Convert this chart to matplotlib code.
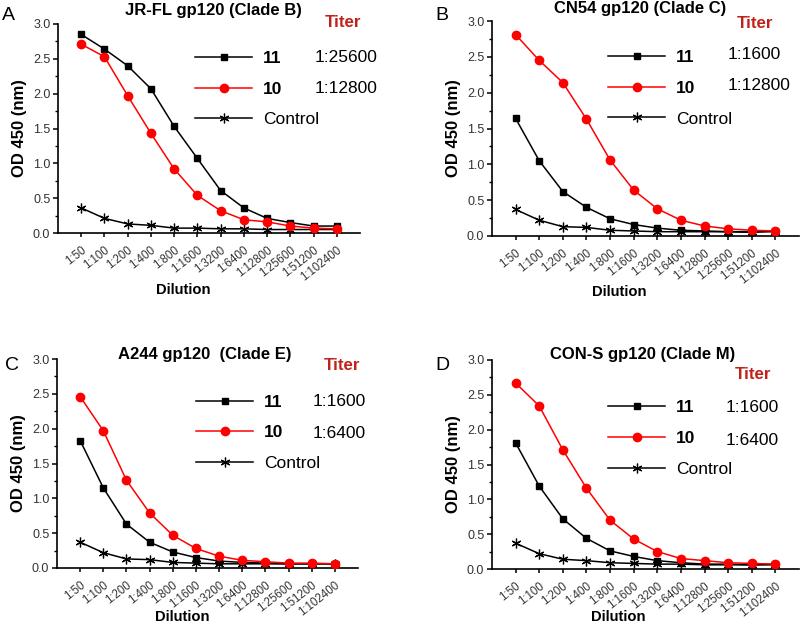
import matplotlib
matplotlib.use("Agg")
import matplotlib.pyplot as plt
from matplotlib.ticker import MultipleLocator
import numpy as np

plt.rcParams['font.family'] = ['Liberation Sans', 'DejaVu Sans']

dilutions = ["1:50", "1:100", "1:200", "1:400", "1:800", "1:1600", "1:3200",
             "1:6400", "1:12800", "1:25600", "1:51200", "1:102400"]

# Panel A: JR-FL gp120 (Clade B)
a_11 = [2.85, 2.64, 2.40, 2.07, 1.53, 1.07, 0.61, 0.36, 0.21, 0.15, 0.10, 0.10]
a_10 = [2.71, 2.53, 1.97, 1.43, 0.92, 0.54, 0.32, 0.19, 0.16, 0.10, 0.07, 0.06]
a_ctrl = [0.36, 0.21, 0.13, 0.11, 0.07, 0.07, 0.06, 0.06, 0.05, 0.05, 0.05, 0.05]

# Panel B: CN54 gp120 (Clade C)
b_11 = [1.64, 1.05, 0.62, 0.40, 0.24, 0.16, 0.11, 0.08, 0.07, 0.06, 0.05, 0.07]
b_10 = [2.81, 2.45, 2.14, 1.63, 1.06, 0.64, 0.38, 0.22, 0.14, 0.10, 0.08, 0.07]
b_ctrl = [0.37, 0.22, 0.13, 0.12, 0.08, 0.07, 0.06, 0.06, 0.06, 0.06, 0.06, 0.06]

# Panel C: A244 gp120 (Clade E)
c_11 = [1.83, 1.15, 0.63, 0.37, 0.23, 0.15, 0.10, 0.08, 0.07, 0.06, 0.06, 0.06]
c_10 = [2.46, 1.97, 1.26, 0.79, 0.47, 0.28, 0.17, 0.11, 0.09, 0.07, 0.07, 0.06]
c_ctrl = [0.37, 0.22, 0.13, 0.12, 0.08, 0.07, 0.06, 0.06, 0.06, 0.06, 0.06, 0.06]

# Panel D: CON-S gp120 (Clade M)
d_11 = [1.81, 1.19, 0.72, 0.44, 0.26, 0.18, 0.12, 0.09, 0.07, 0.07, 0.06, 0.07]
d_10 = [2.67, 2.34, 1.71, 1.16, 0.70, 0.43, 0.25, 0.15, 0.12, 0.09, 0.08, 0.07]
d_ctrl = [0.37, 0.22, 0.14, 0.12, 0.09, 0.08, 0.07, 0.07, 0.06, 0.06, 0.06, 0.06]

titles = ["JR-FL gp120 (Clade B)", "CN54 gp120 (Clade C)",
          "A244 gp120  (Clade E)", "CON-S gp120 (Clade M)"]
letters = ["A", "B", "C", "D"]
titers_11 = ["1:25600", "1:1600", "1:1600", "1:1600"]
titers_10 = ["1:12800", "1:12800", "1:6400", "1:6400"]
series = [(a_11, a_10, a_ctrl), (b_11, b_10, b_ctrl),
          (c_11, c_10, c_ctrl), (d_11, d_10, d_ctrl)]

W, H = 800, 624
fig = plt.figure(figsize=(8, 6.24), dpi=100)

# layout in pixels: (left, top, right, bottom)
axes_px = [(58, 24, 360, 233), (492, 21, 799, 236),
           (57, 359, 358, 568), (492, 360, 799, 569)]
title_px = [(213, 10), (640, 9), (205, 355), (643, 355)]
letter_px = [(8, 16), (442, 16), (12, 366), (442, 366)]
xlabel_px = [(183, 294), (619, 296), (182, 621), (618, 621)]
legend_anchor = [(0.454, 0.872), (0.378, 0.866), (0.462, 0.830), (0.378, 0.808)]
titer_head = [(0.944, 1.005), (0.857, 0.99), (0.947, 0.97), (0.85, 0.933)]
titer_x = [0.851, 0.769, 0.85, 0.76]
row_y = [(0.840, 0.692), (0.842, 0.698), (0.797, 0.645), (0.775, 0.617)]

titer_color = "#c0221a"
x = np.arange(len(dilutions))
LEGFS = 12.5

for i in range(4):
    l, t, r, b = axes_px[i]
    ax = fig.add_axes([l / W, 1 - b / H, (r - l) / W, (b - t) / H])
    s11, s10, sc = series[i]
    h1, = ax.plot(x, s11, color="black", lw=1.1, marker="s", ms=5.0, label="11", zorder=3)
    h2, = ax.plot(x, s10, color="#ff0000", lw=1.1, marker="o", ms=6.0, label="10", zorder=3)
    h3, = ax.plot(x, sc, color="black", lw=1.1, marker=(6, 2, 0), ms=7,
                  mew=0.9, label="Control", zorder=2)
    ax.set_xlim(-1, 12)
    ax.set_ylim(0, 3.0)
    ax.set_xticks(x)
    ax.set_xticklabels(dilutions, rotation=38, ha="right", rotation_mode="anchor",
                       fontsize=8.3, color="#333333")
    ax.set_yticks(np.arange(0, 3.01, 0.5))
    ax.yaxis.set_minor_locator(MultipleLocator(0.25))
    ax.set_yticklabels([f"{v:.1f}" for v in np.arange(0, 3.01, 0.5)],
                       fontsize=9, color="#333333")
    for sp in ["top", "right"]:
        ax.spines[sp].set_visible(False)
    for sp in ["left", "bottom"]:
        ax.spines[sp].set_linewidth(1.2)
    ax.tick_params(axis="x", which="major", direction="out", length=3.0, width=1.1, pad=5)
    ax.tick_params(axis="y", which="major", direction="out", length=3.5, width=1.1, pad=2)
    ax.tick_params(axis="y", which="minor", direction="out", length=2, width=1.0)
    ax.set_ylabel("OD 450 (nm)", fontsize=12, fontweight="bold", labelpad=4)

    leg = ax.legend(handles=[h1, h2, h3], loc="upper left",
                    bbox_to_anchor=legend_anchor[i], frameon=False,
                    fontsize=LEGFS, handlelength=3.28, handletextpad=0.63,
                    labelspacing=0.9, borderaxespad=0, borderpad=0)
    for txt, wgt in zip(leg.get_texts(), ["bold", "bold", "normal"]):
        txt.set_fontweight(wgt)

    ax.text(titer_head[i][0], titer_head[i][1], "Titer", transform=ax.transAxes,
            ha="center", va="center", fontsize=12.2, fontweight="bold", color=titer_color)
    ax.text(titer_x[i], row_y[i][0], titers_11[i], transform=ax.transAxes,
            ha="left", va="center", fontsize=LEGFS)
    ax.text(titer_x[i], row_y[i][1], titers_10[i], transform=ax.transAxes,
            ha="left", va="center", fontsize=LEGFS)

    fig.text(title_px[i][0] / W, 1 - title_px[i][1] / H, titles[i],
             ha="center", va="center", fontsize=12, fontweight="bold")
    fig.text(letter_px[i][0] / W, 1 - letter_px[i][1] / H, letters[i],
             ha="center", va="center", fontsize=14)
    fig.text(xlabel_px[i][0] / W, 1 - xlabel_px[i][1] / H, "Dilution",
             ha="center", va="baseline", fontsize=10.6, fontweight="bold")

fig.savefig("out.png", dpi=100)
